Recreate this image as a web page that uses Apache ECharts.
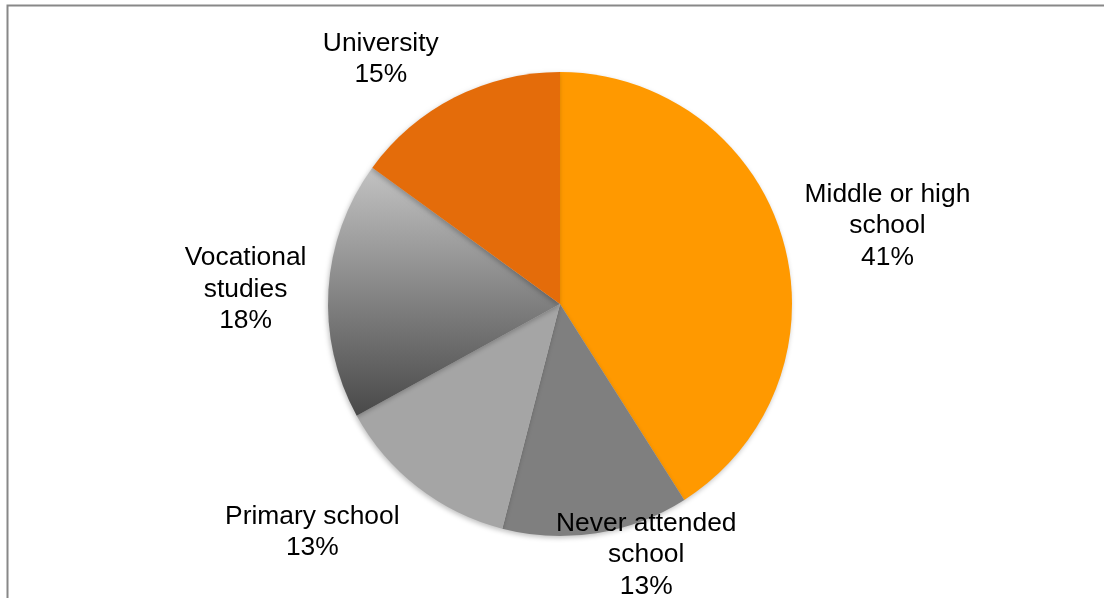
<!DOCTYPE html>
<html>
<head>
<meta charset="utf-8">
<script src="https://cdn.jsdelivr.net/npm/echarts@6/dist/echarts.min.js"></script>
<style>
  html, body { margin: 0; padding: 0; background: #fff; }
  #main { width: 1104px; height: 598px; }
</style>
</head>
<body>
<div id="main"></div>
<script>
// data (share of respondents, %)
var categories = ['Middle or high\nschool', 'Never attended\nschool', 'Primary school', 'Vocational\nstudies', 'University'];
var shares = [41, 13, 13, 18, 15];

var sliceColors = [
    '#ff9900',
    '#7f7f7f',
    '#a5a5a5',
    new echarts.graphic.LinearGradient(0, 0, 0, 1, [
        { offset: 0, color: '#c3c3c3' },
        { offset: 1, color: '#494949' }
    ]),
    '#e46c0a'
];
// label line lengths (hidden lines) used to place each label like the original
var labelLines = [
    { length: 59, length2: 43 },
    { length: 19, length2: 42 },
    { length: 53, length2: 68 },
    { length: 46, length2: 32 },
    { length: 46, length2: 48 }
];

var myChart = echarts.init(document.getElementById('main'));

var pieData = categories.map(function (name, i) {
    return {
        name: name,
        value: shares[i],
        itemStyle: { color: sliceColors[i] },
        labelLine: { show: false, length: labelLines[i].length, length2: labelLines[i].length2 }
    };
});

var option = {
    animation: false,
    graphic: [{
        type: 'polyline',
        silent: true,
        shape: { points: [[7.5, 598], [7.5, 5.5], [1104, 5.5]] },
        style: { stroke: '#888888', lineWidth: 2, fill: null }
    }],
    series: [{
        type: 'pie',
        center: [560, 304],
        radius: 232,
        startAngle: 90,
        clockwise: true,
        avoidLabelOverlap: false,
        emphasis: { disabled: true },
        itemStyle: {
            borderWidth: 0,
            shadowBlur: 5,
            shadowOffsetX: -1,
            shadowOffsetY: 2,
            shadowColor: 'rgba(0,0,0,0.25)'
        },
        label: {
            show: true,
            position: 'outside',
            fontFamily: 'Liberation Sans, Arial, sans-serif',
            fontSize: 26.4,
            lineHeight: 31.5,
            color: '#000',
            formatter: function (p) { return p.name + '\n' + p.value + '%'; }
        },
        labelLine: { show: false },
        labelLayout: function () {
            return { align: 'center', verticalAlign: 'middle', dy: 3 };
        },
        data: pieData
    }]
};
myChart.setOption(option);
</script>
</body>
</html>
